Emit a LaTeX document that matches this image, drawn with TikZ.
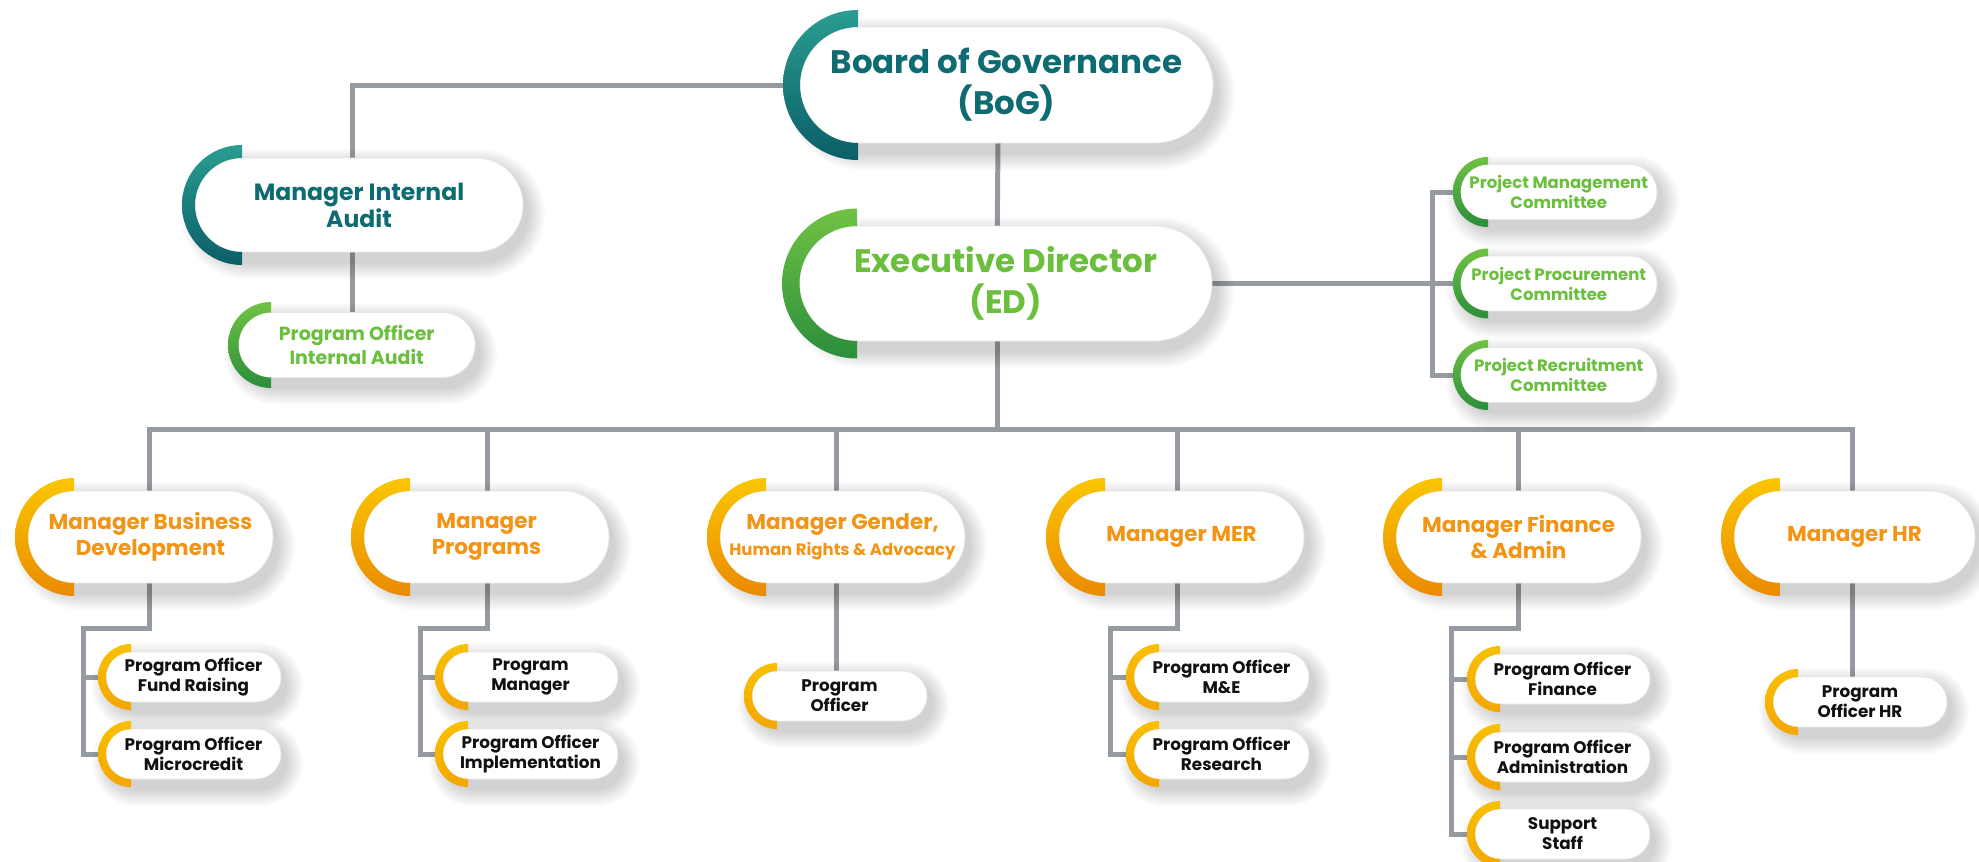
\documentclass[tikz,border=0pt]{standalone}
\usepackage{fontspec}
\setmainfont{Poppins}
\usetikzlibrary{calc}
\pgfdeclarelayer{back}
\pgfdeclarelayer{bg}
\pgfsetlayers{back,bg,main}

\definecolor{tealtxt}{HTML}{0E6B72}
\definecolor{tealtop}{HTML}{2A9D90}
\definecolor{tealbot}{HTML}{0B5E69}
\definecolor{greentxt}{HTML}{6ABF3D}
\definecolor{greentop}{HTML}{70C243}
\definecolor{greenbot}{HTML}{2A8E3B}
\definecolor{orangetxt}{HTML}{F39414}
\definecolor{orangetop}{HTML}{FBC600}
\definecolor{orangebot}{HTML}{EA8A00}
\definecolor{yeltop}{HTML}{F9C000}
\definecolor{yelbot}{HTML}{F3A600}
\definecolor{subtxt}{HTML}{111111}
\definecolor{conngray}{HTML}{959BA1}

\tikzset{
  conn/.style={draw=conngray, line width=5pt},
  labelbox/.style={shape=rectangle, inner sep=0pt, align=center},
  teallabel/.style={labelbox, text=tealtxt},
  greenlabel/.style={labelbox, text=greentxt},
  orangelabel/.style={labelbox, text=orangetxt},
  sublabel/.style={labelbox, text=subtxt},
  tealarc/.style={top color=tealtop, bottom color=tealbot},
  greenarc/.style={top color=greentop, bottom color=greenbot},
  orangearc/.style={top color=orangetop, bottom color=orangebot},
  yelarc/.style={top color=yeltop, bottom color=yelbot},
}

% #1 name, #2 cap centre x, #3 centre y, #4 pill radius, #5 right edge,
% #6 ring thickness, #7 label style, #8 ring style, #9 text
\newcommand{\orgpill}[9]{%
  \pgfmathsetmacro\pL{#2-#4}%
  \pgfmathsetmacro\pT{#3-#4}%
  \pgfmathsetmacro\pB{#3+#4}%
  \foreach \e in {2,4,...,18} {%
    \pgfmathsetmacro\rr{#4+\e}%
    \fill[black, opacity=0.018, rounded corners=\rr pt]
      ({\pL-\e+4},{\pT-\e+9}) rectangle ({#5+\e+4},{\pB+\e+9});
  }%
  \fill[white, draw=black!9, line width=0.8pt, rounded corners=#4pt]
    (\pL,\pT) rectangle (#5,\pB);
  \shade[#8] (#2,{#3+#4+#6}) arc[start angle=90, end angle=270, radius={#4+#6}]
    -- (#2,{#3-#4}) arc[start angle=270, end angle=90, radius=#4] -- cycle;
  \node[#7, minimum width={(#5-\pL)*1pt}, minimum height={2*#4*1pt}]
    (#1) at ({(\pL+#5)/2},#3) {#9};
}

\newcommand{\fbig}{\fontsize{32.5}{41}\selectfont\bfseries}
\newcommand{\fmia}{\fontsize{23.5}{27}\selectfont\bfseries}
\newcommand{\fman}{\fontsize{21.5}{26}\selectfont\bfseries}
\newcommand{\fmansmall}{\fontsize{16.5}{20}\selectfont\bfseries}
\newcommand{\fpoia}{\fontsize{19}{24}\selectfont\bfseries}
\newcommand{\fcom}{\fontsize{16.5}{20}\selectfont\bfseries}
\newcommand{\fsub}{\fontsize{16.8}{20}\selectfont\bfseries}

\begin{document}
\begin{tikzpicture}[x=1pt, y=-1pt]
\useasboundingbox (0,0) rectangle (1979,862);
\begin{pgfonlayer}{back}
  \fill[white] (0,0) rectangle (1979,862);
\end{pgfonlayer}

% top level
\orgpill{bog}{858}{85}{58}{1213}{17}{teallabel,font=\fbig}{tealarc}{Board of Governance\\(BoG)}
\orgpill{ed}{857}{283.5}{57.5}{1212}{17.5}{greenlabel,font=\fbig}{greenarc}{Executive Director\\(ED)}
\orgpill{mia}{242}{205}{47}{523}{13}{teallabel,font=\fmia}{tealarc}{Manager Internal\\Audit}
\orgpill{poia}{271}{345}{32.5}{475}{10.5}{greenlabel,font=\fpoia}{greenarc}{Program Officer\\Internal Audit}

% committees
\orgpill{pmc}{1488}{192}{27.5}{1657}{7.5}{greenlabel,font=\fcom}{greenarc}{Project Management\\Committee}
\orgpill{ppc}{1488}{283.5}{27.5}{1657}{7.5}{greenlabel,font=\fcom}{greenarc}{Project Procurement\\Committee}
\orgpill{prc}{1488}{375}{27.5}{1657}{7.5}{greenlabel,font=\fcom}{greenarc}{Project Recruitment\\Committee}

% managers
\orgpill{mbd}{74}{537}{46}{273}{13}{orangelabel,font=\fman}{orangearc}{Manager Business\\Development}
\orgpill{mp}{410}{537}{46}{609}{13}{orangelabel,font=\fman}{orangearc}{Manager\\Programs}
\orgpill{mg}{766}{537}{46}{965}{13}{orangelabel,font=\fman}{orangearc}{Manager Gender,\\{\fmansmall Human Rights \& Advocacy}}
\orgpill{mer}{1105}{537}{46}{1304}{13}{orangelabel,font=\fman}{orangearc}{Manager MER}
\orgpill{mfa}{1442}{537}{46}{1641}{13}{orangelabel,font=\fman}{orangearc}{Manager Finance\\\& Admin}
\orgpill{mhr}{1780}{537}{46}{1975}{13}{orangelabel,font=\fman}{orangearc}{Manager HR}

% sub posts
\orgpill{pofr}{131}{677}{25}{281}{8}{sublabel,font=\fsub}{yelarc}{Program Officer\\Fund Raising}
\orgpill{pomc}{131}{754}{25}{281}{8}{sublabel,font=\fsub}{yelarc}{Program Officer\\Microcredit}
\orgpill{pm}{468}{677}{25}{618}{8}{sublabel,font=\fsub}{yelarc}{Program\\Manager}
\orgpill{poi}{468}{754}{25}{618}{8}{sublabel,font=\fsub}{yelarc}{Program Officer\\Implementation}
\orgpill{po}{777}{696}{25}{927}{8}{sublabel,font=\fsub}{yelarc}{Program\\Officer}
\orgpill{pome}{1159}{677}{25}{1309}{8}{sublabel,font=\fsub}{yelarc}{Program Officer\\M\&E}
\orgpill{por}{1159}{754}{25}{1309}{8}{sublabel,font=\fsub}{yelarc}{Program Officer\\Research}
\orgpill{pof}{1500}{679}{25}{1650}{8}{sublabel,font=\fsub}{yelarc}{Program Officer\\Finance}
\orgpill{poa}{1500}{757}{25}{1650}{8}{sublabel,font=\fsub}{yelarc}{Program Officer\\Administration}
\orgpill{ss}{1500}{834}{25}{1650}{8}{sublabel,font=\fsub}{yelarc}{Support\\Staff}
\orgpill{pohr}{1798}{702}{25}{1947}{8}{sublabel,font=\fsub}{yelarc}{Program\\Officer HR}

\begin{pgfonlayer}{bg}
  % board and audit
  \draw[conn] ([xshift=-8.5]bog.south) -- ([xshift=-8.5]ed.north);
  \draw[conn] (bog.west) -| ([xshift=-7]mia.north);
  \draw[conn] ([xshift=-7]mia.south) -- ([xshift=-7]mia.south |- poia.north);
  % committees
  \draw[conn] (ed.east) -- (ppc.west);
  \draw[conn] (pmc.west) -| ([xshift=-27.5]ppc.west) |- (prc.west);
  % managers
  \draw[conn] ([xshift=-8]ed.south) -- ++(0,88.5) -| ([xshift=-1.5]mbd.north);
  \draw[conn] ([xshift=-8]ed.south) -- ++(0,88.5) -| ([xshift=0.5]mp.north);
  \draw[conn] ([xshift=-8]ed.south) -- ++(0,88.5) -| ([xshift=-6.5]mg.north);
  \draw[conn] ([xshift=-8]ed.south) -- ++(0,88.5) -| ([xshift=-4.5]mer.north);
  \draw[conn] ([xshift=-8]ed.south) -- ++(0,88.5) -| ([xshift=-0.5]mfa.north);
  \draw[conn] ([xshift=-8]ed.south) -- ++(0,88.5) -| ([xshift=-2.5]mhr.north);
  % sub posts
  \draw[conn] ([xshift=-1.5]mbd.south) -- ++(0,45) -| ([xshift=-22]pofr.west) -- (pofr.west);
  \draw[conn] ([xshift=-22]pofr.west) |- (pomc.west);
  \draw[conn] ([xshift=0.5]mp.south) -- ++(0,45) -| ([xshift=-22]pm.west) -- (pm.west);
  \draw[conn] ([xshift=-22]pm.west) |- (poi.west);
  \draw[conn] ([xshift=-6.5]mg.south) -- ([xshift=-6.5]mg.south |- po.north);
  \draw[conn] ([xshift=-4.5]mer.south) -- ++(0,45) -| ([xshift=-23]pome.west) -- (pome.west);
  \draw[conn] ([xshift=-23]pome.west) |- (por.west);
  \draw[conn] ([xshift=-0.5]mfa.south) -- ++(0,45) -| ([xshift=-23]pof.west) -- (pof.west);
  \draw[conn] ([xshift=-23]pof.west) |- (poa.west);
  \draw[conn] ([xshift=-23]pof.west) |- (ss.west);
  \draw[conn] ([xshift=-2.5]mhr.south) -- ([xshift=-2.5]mhr.south |- pohr.north);
\end{pgfonlayer}
\end{tikzpicture}
\end{document}
